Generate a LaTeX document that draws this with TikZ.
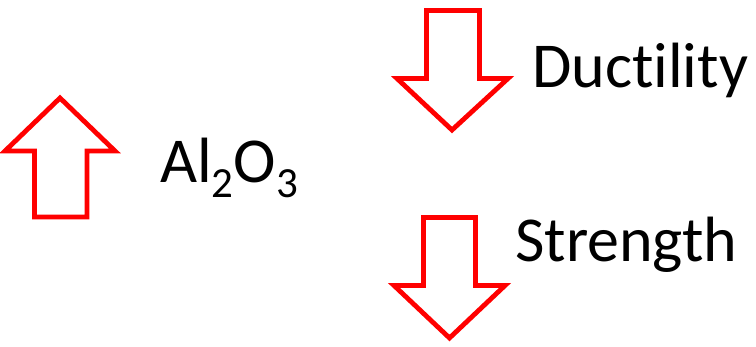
\documentclass[tikz,border=0pt]{standalone}
\usepackage{fontspec}
\setmainfont[Ligatures={NoCommon}]{Carlito}
\newcommand{\mysub}[1]{\raisebox{-0.22em}{\fontsize{43}{43}\selectfont #1}}
\begin{document}
\begin{tikzpicture}[x=1pt,y=-1pt,
  bigarrow/.style={draw=red, line width=4.8pt, miter limit=10, line join=miter, fill=white},
  lbl/.style={anchor=base west, inner sep=0pt, font=\fontsize{64}{64}\selectfont}]
\useasboundingbox (0,0) rectangle (756,347);
% up arrow
\path[bigarrow] (34.5,217) -- (34.5,151) -- (5,151) -- (60,98) -- (115,151) -- (87,151) -- (87,217) -- cycle;
% down arrow ductility
\path[bigarrow] (426.5,10.5) -- (479.5,10.5) -- (479.5,78.5) -- (508,78.5) -- (452,130) -- (397,78.5) -- (426.5,78.5) -- cycle;
% down arrow strength
\path[bigarrow] (423.5,217.5) -- (475.5,217.5) -- (475.5,285.5) -- (505,285.5) -- (449.5,338) -- (394,285.5) -- (423.5,285.5) -- cycle;
\node[lbl] (al) at (160,183) {Al\mysub{2}O\mysub{3}};
\node[lbl] (duc) at (532,88) {Ductility};
\node[lbl] (str) at (515,262) {Strength};
\end{tikzpicture}
\end{document}
